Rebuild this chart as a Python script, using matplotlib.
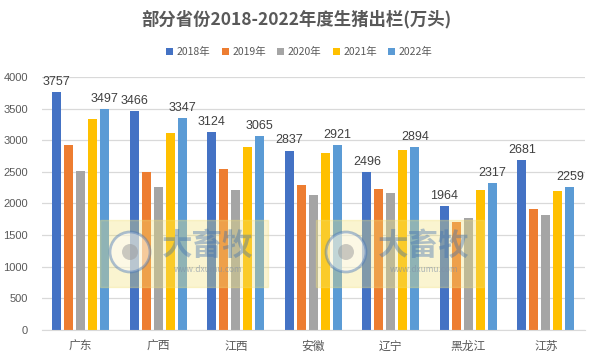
import numpy as np
import matplotlib
matplotlib.use("Agg")
import matplotlib.pyplot as plt
from matplotlib.patches import Rectangle, Ellipse

plt.rcParams['font.family'] = ['Noto Sans CJK SC', 'DejaVu Sans']

# Data
provinces = ["广东", "广西", "江西", "安徽", "辽宁", "黑龙江", "江苏"]
years     = ["2018年", "2019年", "2020年", "2021年", "2022年"]
v2018 = [3757, 3466, 3124, 2837, 2496, 1964, 2681]
v2019 = [2930, 2490, 2540, 2285, 2230, 1700, 1915]
v2020 = [2520, 2265, 2205, 2140, 2170, 1775, 1820]
v2021 = [3330, 3110, 2900, 2790, 2840, 2215, 2200]
v2022 = [3497, 3347, 3065, 2921, 2894, 2317, 2259]
series = [v2018, v2019, v2020, v2021, v2022]
labelled = [0, 4]   # only first and last year carry value labels

colors = ["#4472C4", "#ED7D31", "#A5A5A5", "#FFC000", "#5B9BD5"]
txt = "#595959"

fig = plt.figure(figsize=(5.95, 3.61), dpi=100)
ax = fig.add_axes([0.0706, 0.0859, 0.912, 0.701])

x = np.arange(len(provinces))
step  = 0.155
width = 0.116
for i, (vals, col) in enumerate(zip(series, colors)):
    pos = x + (i - 2) * step
    bars = ax.bar(pos, vals, width, color=col, label=years[i], zorder=2)
    if i in labelled:
        for b, v in zip(bars, vals):
            ax.annotate(str(v), (b.get_x() + b.get_width() / 2, v),
                        xytext=(0, 3), textcoords="offset points",
                        ha="center", va="bottom", fontsize=9,
                        color="#404040", family=["Liberation Sans"])

ax.set_xlim(-0.5, len(provinces) - 0.5)
ax.set_ylim(0, 4000)
ax.set_yticks(range(0, 4001, 500))
ax.set_xticks(x)
ax.set_xticklabels(provinces, fontsize=8.5, color=txt)
ax.tick_params(axis="y", labelsize=8, labelcolor=txt, length=0, pad=10)
for lab in ax.get_yticklabels():
    lab.set_family(["Liberation Sans"])
ax.tick_params(axis="x", length=0, pad=7)
ax.grid(axis="y", color="#D9D9D9", linewidth=0.9, zorder=0)
for s in ["top", "right", "left"]:
    ax.spines[s].set_visible(False)
ax.spines["bottom"].set_color("#D9D9D9")

fig.text(0.498, 1 - 19 / 361, "部分省份2018-2022年度生猪出栏(万头)", ha="center",
         va="center", fontsize=12.5, fontweight="bold", color=txt)

fig.legend(loc="center", bbox_to_anchor=(0.503, 1 - 52 / 361), ncol=5,
           frameon=False, fontsize=7.5, handlelength=0.7, handleheight=0.7,
           columnspacing=1.1, handletextpad=0.3, labelcolor=txt)

# faint watermark blocks
W, H = 595.0, 361.0
for x0 in (100, 316):
    fig.patches.append(Rectangle((x0 / W, 1 - 287 / H), 168 / W, 67 / H,
                                 transform=fig.transFigure, color="#F2E27A",
                                 alpha=0.35, zorder=5))
    fig.patches.append(Ellipse(((x0 + 30) / W, 1 - 252 / H), 40 / W, 40 / H,
                               transform=fig.transFigure, fc="#FFFFFF",
                               ec="#4A78B8", lw=2, alpha=0.45, zorder=6))
    fig.patches.append(Ellipse(((x0 + 30) / W, 1 - 252 / H), 16 / W, 16 / H,
                               transform=fig.transFigure, fc="#9A9A9A",
                               ec="none", alpha=0.5, zorder=6))
    fig.text((x0 + 108) / W, 1 - 246 / H, "大畜牧", ha="center", va="center",
             fontsize=22, fontweight="bold", color="#3E6FB0", alpha=0.4,
             zorder=6)
    fig.text((x0 + 108) / W, 1 - 270 / H, "www.dxumu.com", ha="center",
             va="center", fontsize=6, color="#7F8FA6", alpha=0.6, zorder=6)

fig.savefig("out.png", dpi=100)
